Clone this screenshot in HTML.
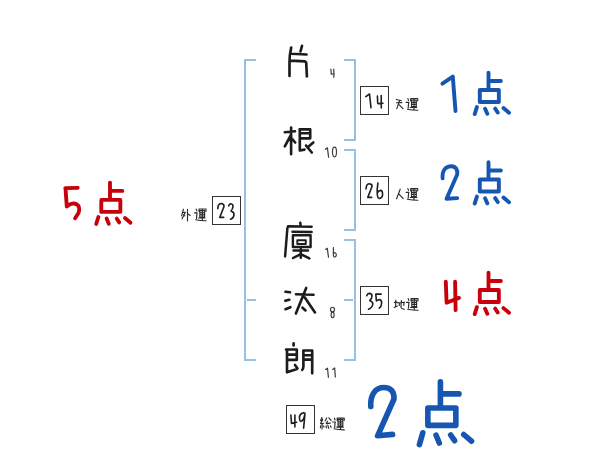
<!DOCTYPE html>
<html><head><meta charset="utf-8">
<style>
html,body{margin:0;padding:0;background:#fff;width:600px;height:470px;overflow:hidden;font-family:"Liberation Sans",sans-serif;}
svg{display:block;position:absolute;left:0;top:0;}
.k{fill:none;stroke:#222;stroke-linecap:round;stroke-linejoin:round;}
.br{fill:#96c0e4;}
.bx{fill:none;stroke:#333;stroke-width:1;}
</style></head><body>
<svg width="600" height="470" viewBox="0 0 600 470">
<!-- left bracket -->
<rect class="br" x="244" y="59" width="2" height="302"/>
<rect class="br" x="244" y="59" width="12" height="2"/>
<rect class="br" x="247" y="299" width="9" height="2"/>
<rect class="br" x="244" y="359" width="12" height="2"/>

<!-- right brackets -->
<rect class="br" x="354" y="59" width="2" height="82"/>
<rect class="br" x="344" y="59" width="12" height="2"/>
<rect class="br" x="344" y="139" width="12" height="2"/>

<rect class="br" x="354" y="149" width="2" height="82"/>
<rect class="br" x="344" y="149" width="12" height="2"/>
<rect class="br" x="344" y="229" width="12" height="2"/>

<rect class="br" x="354" y="239" width="2" height="122"/>
<rect class="br" x="344" y="239" width="12" height="2"/>
<rect class="br" x="344" y="299" width="9" height="2"/>
<rect class="br" x="344" y="359" width="12" height="2"/>

<!-- boxes -->
<rect class="bx" x="212.5" y="196.5" width="28" height="28"/>
<rect class="bx" x="360.5" y="86.5" width="28" height="28"/>
<rect class="bx" x="360.5" y="176.5" width="28" height="28"/>
<rect class="bx" x="360.5" y="286.5" width="28" height="28"/>
<rect class="bx" x="286.5" y="405.5" width="28" height="28"/>

<!-- scores -->
<g class="k" style="stroke:#c8000c;stroke-width:3.85">
<path d="M65.3,188.2L77.7,187.8M65.5,188.5L66.8,206.5C70,203.5 74,203 77,204.5C79.5,206 79.5,210 78.5,213L75.1,218.3"/>
<path d="M0,0V17.3M0,8.3H12.4M-8.7,17.3H10.35V29.3H-8.7ZM-11.6,34.4L-13.8,41.4M-3.4,36L-1.2,41.1M6.7,35.9L9.2,39.8M15,35.4L20.5,40.1" transform="translate(110,182.6)"/>
<path d="M445.8,281.7L446.6,302.7L459,297.9M455.1,281.7L455.6,310.1"/>
<path d="M0,0V17.3M0,8.3H12.4M-8.7,17.3H10.35V29.3H-8.7ZM-11.6,34.4L-13.8,41.4M-3.4,36L-1.2,41.1M6.7,35.9L9.2,39.8M15,35.4L20.5,40.1" transform="translate(488.5,272.7)"/>
</g>
<g class="k" style="stroke:#1656b2;stroke-width:3.9">
<path d="M442.4,83.7L452.8,76.6L455.5,111"/>
<path d="M0,0V17.3M0,8.3H12.4M-8.7,17.3H10.35V29.3H-8.7ZM-11.6,34.4L-13.8,41.4M-3.4,36L-1.2,41.1M6.7,35.9L9.2,39.8M15,35.4L20.5,40.1" transform="translate(488.5,72.7)"/>
<path d="M442.6,178.4C442,170 446,166.2 451.3,166.2C456,166.2 457.8,170 457.2,174.5L446.5,198.8L457.2,198.1"/>
<path d="M0,0V17.3M0,8.3H12.4M-8.7,17.3H10.35V29.3H-8.7ZM-11.6,34.4L-13.8,41.4M-3.4,36L-1.2,41.1M6.7,35.9L9.2,39.8M15,35.4L20.5,40.1" transform="translate(488.5,162.2)"/>
</g>
<g class="k" style="stroke:#1656b2;stroke-width:5.6">
<path d="M370.8,406.5C370,394 376,387.5 383.8,387.5C391,387.5 394.5,392 394,399L377.6,435.8L392.6,434.4"/>
<path d="M440.4,381.8V408M440.4,393.9H459M427.85,408H455.85V425.35H427.85ZM422.8,432.8L419.4,444.6M436.1,435.2L439.3,443M450.7,435L454.6,440.7M463.7,434.5L471.5,441.2"/>
</g>

<!-- names -->
<g class="k" style="stroke:#1c1c1c;stroke-width:2.65">
<!-- 片 -->
<path d="M291.2,47.6Q289.3,56 289.5,62V76M302,45.8L300.5,51.5M291.5,53.8L306.6,54.5M290.5,60.6L305,61.4L306.2,62.5L306.9,76.4"/>
<!-- 根 -->
<path d="M284.8,132.2L295,131.3M291.1,127.5V154.2M290.4,136L284.8,146.3M292.2,139L295.2,142.5M299.6,129.3H310.2V138.3M301.5,133.2H310M300,138.3H310M299.8,129.3V150.5L304.5,149.6M313.3,142.5L307.5,147.6M306,145.5L311.8,152.5"/>
<!-- 廩 -->
<path d="M300.3,222.8L300.6,225.5M288,226.3L311.6,226.8M287.4,228L285.1,256.5M292.5,231.8L311.6,232M293.5,250.4H308M300.8,249V257.8M299.4,254.8L293,258M302.3,254.8L309.3,258.4" style="stroke-width:2.5"/>
<path d="M292.9,235.2H310.6V247H292.9Z" style="stroke-width:2.4"/>
<path d="M297.3,240.3H305.8V244H297.3Z" style="stroke-width:1.9"/>
<!-- 汰 -->
<path d="M285.5,291.8L290,292.3M285.3,300.8L289.3,299.8M285.5,309.2L290.4,307.2M296,294.3L313.5,294.8M306.2,287.9L295.9,313.4M304.8,297.5L315,312.4M302.5,307.7L305.5,310.4"/>
<!-- 朗 -->
<path d="M293.6,343.3V345.5M286,349.5H296.8V359.8M287.8,354.6H296.8M287.8,359.8H296.8M287,350.3V372.3L297,369M295,365L297.5,368.5M303.4,350.8V366.5Q303.3,369 302.3,369.8M303.4,350.5H312.2V373.3M304,355.2H312M304,359.6H312"/>
</g>

<!-- small numbers next to names -->
<g class="k" style="stroke:#3a3a3a;stroke-width:1.2">
<path d="M330.9,69L331.3,74.2L334.4,73.8M333.8,69V77.3"/>
<path d="M325.4,149.3L327.4,147.8L328.6,157.2"/>
<ellipse cx="334.5" cy="152" rx="2" ry="4.8"/>
<path d="M325.6,249.4L327.3,248.3L328.5,257.2M333.4,247.6L333.3,255Q333.5,257.3 334.8,257.2Q336.5,256.8 336.3,254.6Q336,252.5 334.6,252.6Q333.6,252.8 333.4,253.5"/>
<ellipse cx="332.5" cy="309.5" rx="2" ry="2.3" style="stroke-width:1.15"/>
<ellipse cx="332.6" cy="314.9" rx="1.5" ry="2.7" style="stroke-width:1.15"/>
<path d="M325.6,369.4L327.5,368.2L328.4,377.3M332.6,369.4L334.7,368L335.3,377"/>
</g>

<!-- box digits -->
<g class="k" style="stroke:#1e1e1e;stroke-width:1.6">
<path d="M217.8,208.6Q218,203.5 221.5,203.5Q224.2,203.8 224,206.5L219.8,217.4H223.7"/>
<path d="M228.6,205.8Q229.5,203.8 230.8,203.8Q233.2,204.2 233,206.5Q232.6,209.5 231,211Q234.3,212.2 234,214.8Q233.6,218.3 230.6,219.2"/>
<path d="M365.8,96.6L369.5,94L371,107.8M377.4,96L377.7,102.8Q377.8,103.8 379,103.6L383,103.2M381.2,95.6L381.3,108"/>
<path d="M366,189Q366.4,184 368.9,183.8Q372.1,183.8 372.1,186.3L367.8,197.4H371.7"/>
<path d="M377.9,183.1Q377,189 377.2,193Q377.5,198.5 379.1,198.5Q382.6,198 382.6,194.6Q382.5,190.5 380.8,190.4Q378.5,190.6 377.4,192.8"/>
<path d="M366.7,295.7Q367.5,293.4 369.2,293.4Q372,293.6 372,296Q371.8,299 369.8,300.5Q373,302 372.8,304Q372.4,307.8 368.5,309.2"/>
<path d="M381.2,294.1H375.8L376.4,301Q378,299.4 379.8,299.6Q381.8,300.4 381.6,303.2Q381.4,306.8 379.3,308.2"/>
<path d="M290.9,415L291.5,423.4L296.7,422.2M294.9,415V426.9"/>
<path d="M305,413.2Q303.8,412.6 302.6,413Q299.6,414.2 299.4,417.2Q299.5,421.2 300.8,421.3Q303.8,420.8 304.8,414.5M304.9,414Q304.4,421 303.6,428.2"/>
</g>

<!-- 運 labels -->
<g class="k" style="stroke:#2a2a2a;stroke-width:1.15">
<!-- 天運 -->
<path d="M396.3,99.5L401.3,100.7M396.6,102.8L401.8,102.6M399.6,100.6L396.8,108.6M399.2,104.8L403,108.6"/>
<path d="M1.9,0.9L2.5,2.7M0.2,4.7H2.9M2.6,5L2.2,10.2M1.4,11.5Q6,12.4 11.8,12.6M4.7,3.1V0.8H11.7V3.1M5.5,2.4H10.3V8.8H5.5ZM5.5,4.6H10.3M5.5,6.7H10.3M4.3,9.8H10.8M8,1V11.6" transform="translate(406,97.7)"/>
<!-- 人運 -->
<path d="M400.2,189.2L396.6,198.8M399.2,194.4L403.2,198.6"/>
<path d="M1.9,0.9L2.5,2.7M0.2,4.7H2.9M2.6,5L2.2,10.2M1.4,11.5Q6,12.4 11.8,12.6M4.7,3.1V0.8H11.7V3.1M5.5,2.4H10.3V8.8H5.5ZM5.5,4.6H10.3M5.5,6.7H10.3M4.3,9.8H10.8M8,1V11.6" transform="translate(406,187.7)"/>
<!-- 地運 -->
<path d="M394.2,302.5L397,302.2M395.8,300.2L395.6,306.8M394.2,307.4L397.4,305.9M397.6,302.8L404.4,302.2M401.4,300.6L400.9,307.2Q401.5,309.2 404.4,309.2M404,302.3L403.8,305.4M399.3,302.9L399.3,305.4"/>
<path d="M1.9,0.9L2.5,2.7M0.2,4.7H2.9M2.6,5L2.2,10.2M1.4,11.5Q6,12.4 11.8,12.6M4.7,3.1V0.8H11.7V3.1M5.5,2.4H10.3V8.8H5.5ZM5.5,4.6H10.3M5.5,6.7H10.3M4.3,9.8H10.8M8,1V11.6" transform="translate(406.3,297.7)"/>
<!-- 外運 -->
<path d="M183.4,209.2L181.6,215.8M182.8,212.3H185.4L182.1,218.8M183.6,214.6L184.7,215.9M187.5,209.2V220.8M188.1,214L190.2,215.4"/>
<path d="M1.9,0.9L2.5,2.7M0.2,4.7H2.9M2.6,5L2.2,10.2M1.4,11.5Q6,12.4 11.8,12.6M4.7,3.1V0.8H11.7V3.1M5.5,2.4H10.3V8.8H5.5ZM5.5,4.6H10.3M5.5,6.7H10.3M4.3,9.8H10.8M8,1V11.6" transform="translate(194.3,208.2)"/>
<!-- 総運 -->
<path d="M321.9,417.6L320.6,420.4L322.4,420.9M322.7,419L320.6,423.6L323.6,423.3M322.1,423.7V428.9M320.6,425.9L320.4,427.6M323.5,425.9L324,427M326.7,417.9L325.1,420.9M328.8,417.9L331.1,420.4M327.5,421.3L326.2,423.6L330.3,423.1M326.1,425.8L326.4,427.9M327.8,425.1L328.7,428.3M330.4,425.9L331.1,427.3"/>
<path d="M1.9,0.9L2.5,2.7M0.2,4.7H2.9M2.6,5L2.2,10.2M1.4,11.5Q6,12.4 11.8,12.6M4.7,3.1V0.8H11.7V3.1M5.5,2.4H10.3V8.8H5.5ZM5.5,4.6H10.3M5.5,6.7H10.3M4.3,9.8H10.8M8,1V11.6" transform="translate(332.5,417.3)"/>
</g>
</svg>
</body></html>
